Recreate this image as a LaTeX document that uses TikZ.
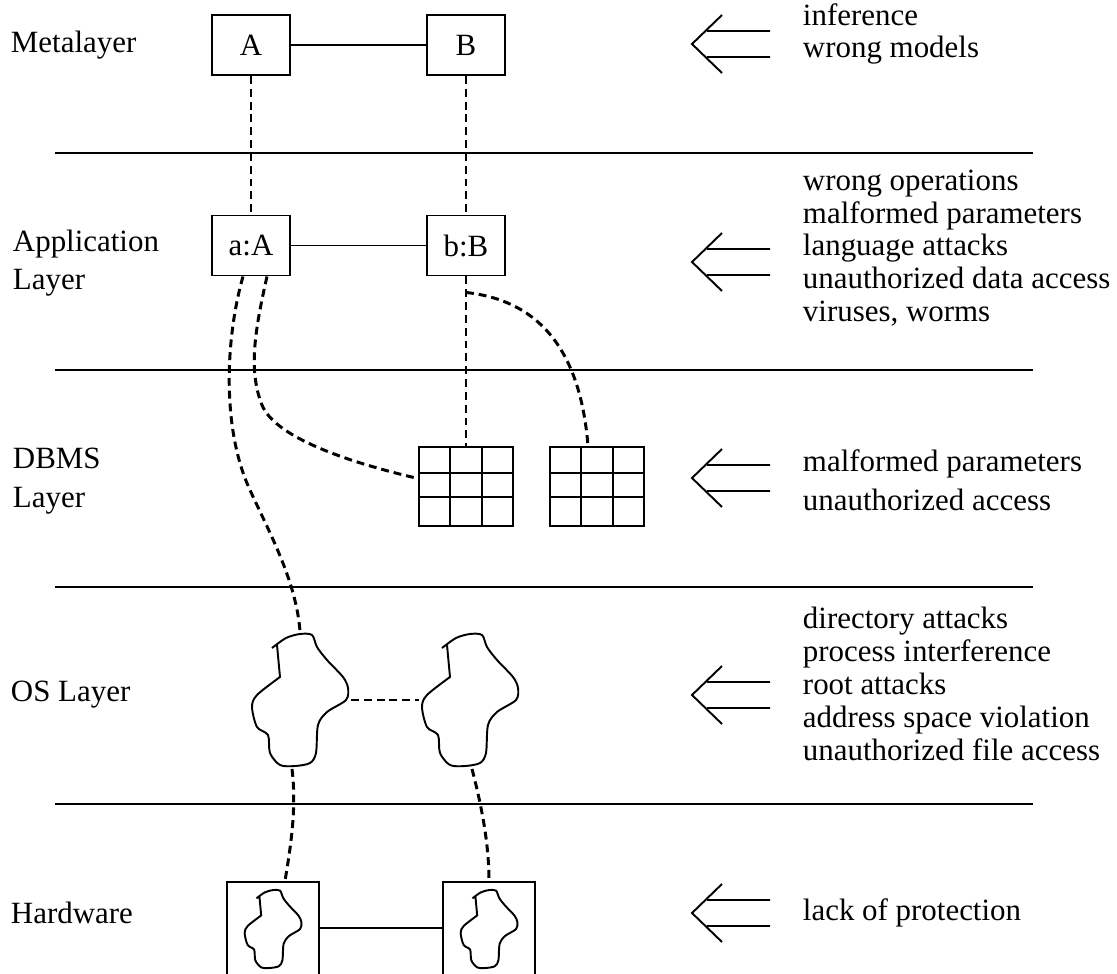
\documentclass[tikz,border=0pt]{standalone}
\usepackage{fontspec}
\setmainfont{Liberation Serif}
\usetikzlibrary{calc}

\begin{document}
\begin{tikzpicture}[x=0.02cm, y=-0.02cm, line width=1.1pt,
  every node/.style={font=\fontsize{17.6}{18.7}\selectfont},
  layerlabel/.style={anchor=west, align=left, inner sep=0pt, font=\fontsize{17.6}{21.8}\selectfont},
  threats/.style={anchor=west, align=left, inner sep=0pt},
  box/.style={draw, minimum width=1.56cm, minimum height=1.2cm, inner sep=0pt},
  dbtable/.style={draw, minimum width=1.88cm, minimum height=1.58cm, inner sep=0pt},
  hwbox/.style={draw, minimum width=1.84cm, minimum height=2.24cm, inner sep=0pt},
  blob/.style={inner sep=0pt, minimum width=#1*2cm, minimum height=#1*2.72cm,
    path picture={\draw[shift={(path picture bounding box.center)}, x=#1*0.02cm, y=-#1*0.02cm]
      plot[smooth] coordinates {(-28,-52) (-14,-62) (0,-66) (12,-65) (17,-53) (27,-40)
        (43,-23) (48,-12) (46,0) (27,12) (18,25) (16,53) (10,63) (-5,66) (-20,65)
        (-30,53) (-32,35) (-43,27) (-48,7) (-43,-5) (-20,-23)} -- (-23,-55);}},
  link/.style={line width=1.7pt, dash pattern=on 4.5pt off 2.8pt}]
\clip (0,0) rectangle (1117,974);

\foreach \y in {153,370,587,804}
  \draw (55,\y) -- (1033,\y);

\node[layerlabel] (lmeta) at (10,45) {Metalayer};
\node[layerlabel] (lapp) at (12,263) {Application\\Layer};
\node[layerlabel] (ldbms) at (12,481) {DBMS\\Layer};
\node[layerlabel] (los) at (10,695) {OS Layer};
\node[layerlabel] (lhw) at (10,913) {Hardware};

\node[box] (A) at (251,45) {A};
\node[box] (B) at (466,45) {B};
\node[box] (aA) at (251,245.5) {a:A};
\node[box] (bB) at (466,245.5) {b:B};
\draw (A) -- (B);
\draw (aA) -- (bB);

\node[dbtable] (g1) at (466,486.5) {};
\node[dbtable] (g2) at (597,486.5) {};
\foreach \t in {g1,g2} {
  \draw ($(\t.north west)!1/3!(\t.north east)$) -- ($(\t.south west)!1/3!(\t.south east)$);
  \draw ($(\t.north west)!2/3!(\t.north east)$) -- ($(\t.south west)!2/3!(\t.south east)$);
  \draw ($(\t.north west)!0.33!(\t.south west)$) -- ($(\t.north east)!0.33!(\t.south east)$);
  \draw ($(\t.north west)!0.63!(\t.south west)$) -- ($(\t.north east)!0.63!(\t.south east)$);
}

\node[blob=1] (os1) at (300,700) {};
\node[blob=1] (os2) at (470,700) {};

\node[hwbox] (hw1) at (273,938) {};
\node[hwbox] (hw2) at (489,938) {};
\node[blob=0.59] (hwb1) at (273,929) {};
\node[blob=0.59] (hwb2) at (489,929) {};
\draw ([yshift=0.2cm]hw1.east) -- ([yshift=0.2cm]hw2.west);

\draw[link] (A) -- (aA);
\draw[link] (B) -- (bB);
\draw[link] (bB) -- (g1);
\draw[link] ([yshift=-0.32cm]bB.south) .. controls (535,300) and (580,345) .. ([xshift=-0.18cm]g2.north);
\draw[link] ([xshift=-0.16cm]aA.south) .. controls (225,340) and (222,430) .. (250,490)
  .. controls (268,530) and (296,580) .. (os1.north);
\draw[link] ([xshift=0.32cm]aA.south) .. controls (255,330) and (248,370) .. (262,405)
  .. controls (276,440) and (360,465) .. ([yshift=0.16cm]g1.west);
\draw[link] (os1.east) -- (os2.west);
\draw[link] ([xshift=-0.16cm]os1.south) .. controls (297,810) and (290,850) .. ([xshift=0.24cm]hw1.north);
\draw[link] ([xshift=0.04cm]os2.south) .. controls (480,800) and (489,840) .. (hw2.north);

\foreach \y in {44,262,478,695,913}
  \draw (722,\y-29) -- (692,\y) -- (722,\y+29) (707,\y-13) -- (770,\y-13) (707,\y+13) -- (770,\y+13);

\node[threats] (tmeta) at (802,34) {inference\\wrong models};
\node[threats] (tapp) at (802,248) {wrong operations\\malformed parameters\\language attacks\\unauthorized data access\\viruses, worms};
\node[threats, font=\fontsize{17.6}{22}\selectfont] (tdbms) at (802,480) {malformed parameters\\unauthorized access};
\node[threats] (tos) at (802,684) {directory attacks\\process interference\\root attacks\\address space violation\\unauthorized file access};
\node[threats] (thw) at (802,913) {lack of protection};
\end{tikzpicture}
\end{document}
